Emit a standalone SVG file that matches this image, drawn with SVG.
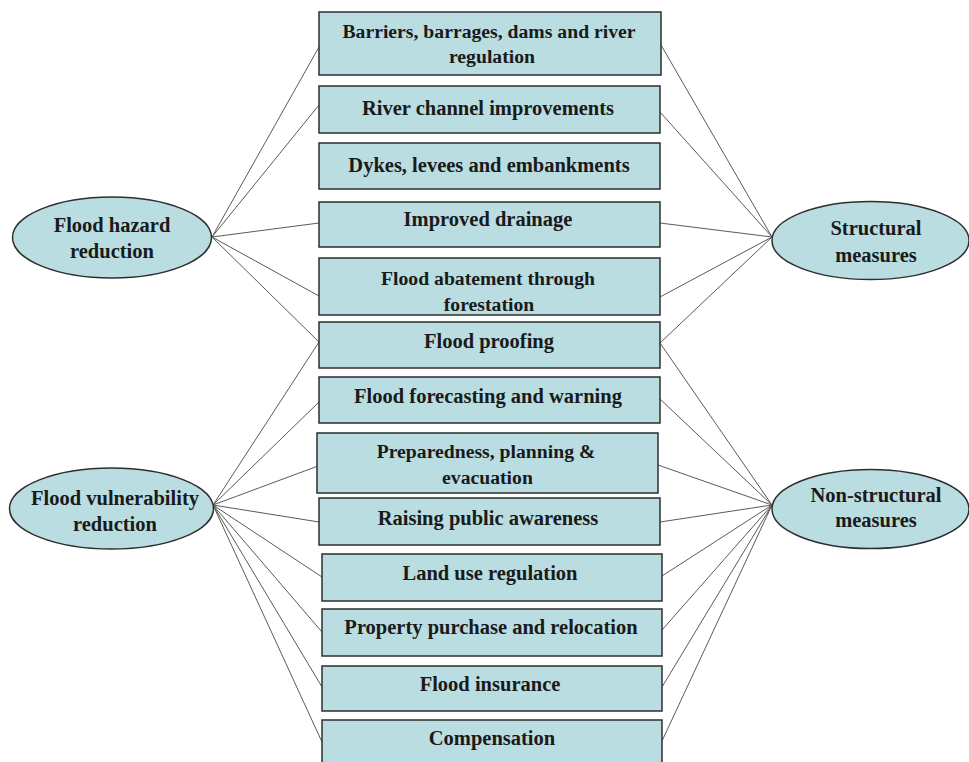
<svg xmlns="http://www.w3.org/2000/svg" width="969" height="762" viewBox="0 0 969 762">
<style>
.box{fill:#b9dde1;stroke:#2e2e2e;stroke-width:1.5}
.ell{fill:#b9dde1;stroke:#2e2e2e;stroke-width:1.5}
.t{font-family:"Liberation Serif","Times New Roman",serif;font-weight:bold;font-size:20.5px;fill:#1a1a1a;text-anchor:middle}
.t2{font-size:19.7px}
.c line{stroke:#5a5a5a;stroke-width:1}
</style>
<rect width="969" height="762" fill="#ffffff"/>
<g id="connectors" class="c">
<line x1="212" y1="237" x2="319" y2="47"/>
<line x1="212" y1="237" x2="319" y2="105"/>
<line x1="212" y1="237" x2="319" y2="223"/>
<line x1="212" y1="237" x2="319" y2="296"/>
<line x1="212" y1="237" x2="319" y2="342"/>
<line x1="213" y1="505" x2="319" y2="342"/>
<line x1="213" y1="505" x2="319" y2="402"/>
<line x1="213" y1="505" x2="318" y2="466"/>
<line x1="213" y1="505" x2="319" y2="522"/>
<line x1="213" y1="505" x2="322" y2="577"/>
<line x1="213" y1="505" x2="322" y2="632"/>
<line x1="213" y1="505" x2="322" y2="687"/>
<line x1="213" y1="505" x2="322" y2="742"/>
<line x1="772" y1="237" x2="661" y2="45"/>
<line x1="772" y1="237" x2="660" y2="112"/>
<line x1="772" y1="237" x2="660" y2="223"/>
<line x1="772" y1="237" x2="660" y2="297"/>
<line x1="772" y1="237" x2="660" y2="343"/>
<line x1="772" y1="505" x2="660" y2="343"/>
<line x1="772" y1="505" x2="660" y2="399"/>
<line x1="772" y1="505" x2="658" y2="465"/>
<line x1="772" y1="505" x2="660" y2="522"/>
<line x1="772" y1="505" x2="662" y2="576"/>
<line x1="772" y1="505" x2="662" y2="630"/>
<line x1="772" y1="505" x2="662" y2="687"/>
<line x1="772" y1="505" x2="662" y2="741"/>
</g>
<g id="hazard">
<ellipse class="ell" cx="112" cy="237.5" rx="99.5" ry="40.5"/>
<text class="t" x="112" y="232">Flood hazard</text>
<text class="t" x="112" y="258">reduction</text>
</g>
<g id="vulnerability">
<ellipse class="ell" cx="111.5" cy="508.5" rx="102" ry="40.5"/>
<text class="t" x="115" y="505">Flood vulnerability</text>
<text class="t" x="115" y="531">reduction</text>
</g>
<g id="structural">
<ellipse class="ell" cx="870.5" cy="240.5" rx="98.5" ry="39"/>
<text class="t" x="876" y="235">Structural</text>
<text class="t" x="876" y="262">measures</text>
</g>
<g id="nonstructural">
<ellipse class="ell" cx="870.5" cy="509" rx="98.5" ry="39.5"/>
<text class="t" x="876" y="502">Non-structural</text>
<text class="t" x="876" y="527">measures</text>
</g>
<g id="b1"><rect class="box" x="319" y="12" width="342" height="63"/>
<text class="t t2" x="489" y="38">Barriers, barrages, dams and river</text>
<text class="t t2" x="492" y="63">regulation</text></g>
<g id="b2"><rect class="box" x="319" y="86" width="341" height="47"/>
<text class="t" x="488" y="115">River channel improvements</text></g>
<g id="b3"><rect class="box" x="319" y="143" width="341" height="46"/>
<text class="t" x="489" y="172">Dykes, levees and embankments</text></g>
<g id="b4"><rect class="box" x="319" y="202" width="341" height="45"/>
<text class="t" x="488" y="226">Improved drainage</text></g>
<g id="b5"><rect class="box" x="319" y="258" width="341" height="57"/>
<text class="t t2" x="488" y="285">Flood abatement through</text>
<text class="t t2" x="489" y="311">forestation</text></g>
<g id="b6"><rect class="box" x="319" y="322" width="341" height="46"/>
<text class="t" x="489" y="348">Flood proofing</text></g>
<g id="b7"><rect class="box" x="319" y="377" width="341" height="46"/>
<text class="t" x="488" y="403">Flood forecasting and warning</text></g>
<g id="b8"><rect class="box" x="317" y="433" width="341" height="60"/>
<text class="t t2" x="486" y="458">Preparedness, planning &amp;</text>
<text class="t t2" x="487.5" y="484">evacuation</text></g>
<g id="b9"><rect class="box" x="319" y="498" width="341" height="47"/>
<text class="t" x="488" y="525">Raising public awareness</text></g>
<g id="b10"><rect class="box" x="322" y="554" width="340" height="47"/>
<text class="t" x="490" y="580">Land use regulation</text></g>
<g id="b11"><rect class="box" x="322" y="609" width="340" height="47"/>
<text class="t" x="491" y="634">Property purchase and relocation</text></g>
<g id="b12"><rect class="box" x="322" y="666" width="340" height="45"/>
<text class="t" x="490" y="691">Flood insurance</text></g>
<g id="b13"><rect class="box" x="322" y="720" width="340" height="50"/>
<text class="t" x="492" y="745">Compensation</text></g>
</svg>
